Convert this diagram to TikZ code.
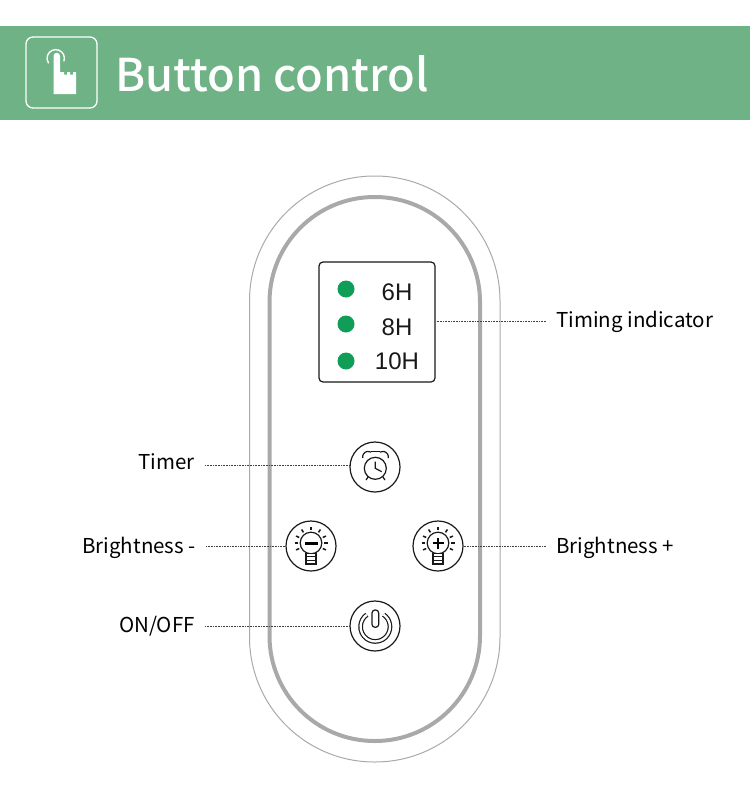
\documentclass[tikz,border=0pt]{standalone}
\usepackage{fontspec}
\setmainfont{Noto Sans CJK SC}
\newfontfamily\titlefont{Noto Sans CJK SC Medium}
\newfontfamily\panelfont{Liberation Sans}
\definecolor{banner}{HTML}{6EB285}
\definecolor{ledgreen}{HTML}{0F9D58}
\definecolor{shellgrey}{HTML}{A9A9A9}
\tikzset{
  caption/.style={font=\fontsize{20.5}{22}\selectfont,text=black,text height=15pt,text depth=3pt,inner xsep=10pt,inner ysep=0pt},
  button/.style={circle,draw=black!90,line width=1.2pt,fill=white,minimum size=50pt,inner sep=0pt},
  led/.style={circle,fill=ledgreen,minimum size=17pt,inner sep=0pt},
  hours/.style={font=\panelfont\fontsize{24}{26}\selectfont,text=black!90,inner sep=0pt},
  leader/.style={densely dotted,line width=0.6pt,black!75},
  icon/.style={line width=1.2pt,black!90}
}
\begin{document}
\begin{tikzpicture}[x=1pt,y=-1pt]
  \useasboundingbox (0,0) rectangle (750,808);
  % header
  \fill[banner] (0,26) rectangle (750,120);
  \draw[white,line width=1.3pt,rounded corners=7pt] (26,37) rectangle (97,108);
  \draw[white,line width=1.4pt] (63.9,61.3) arc (-20:215:8.7 and -8.7);
  \fill[white] (53.5,56) -- (53.5,94) -- (76,94) -- (76,72) -- (73,72) -- (73,74.5) -- (70,74.5) -- (70,72)
    -- (67,72) -- (67,74.5) -- (64,74.5) -- (64,72) -- (60,72) -- (60,56) arc (0:-180:3.25 and 3.25) -- cycle;
  \node[anchor=base west,white,inner sep=0pt,font=\titlefont\fontsize{45.2}{54}\selectfont] (title) at (115,91) {Button control};
  % shell
  \draw[shellgrey,line width=1pt,rounded corners=125pt] (249.5,176) rectangle (500,762);
  \draw[shellgrey,line width=4pt,rounded corners=105pt] (269.5,197) rectangle (480,741);
  % timing panel
  \node[draw=black!90,line width=1.2pt,rounded corners=4pt,minimum width=116pt,minimum height=120pt,inner sep=0pt] (panel) at (377,322) {};
  \node[led] (led6) at (346,289) {};
  \node[led] (led8) at (346,324) {};
  \node[led] (led10) at (346,361) {};
  \node[hours] (h6) at (397,292) {6H};
  \node[hours] (h8) at (397,327) {8H};
  \node[hours] (h10) at (397,361) {10H};
  % buttons
  \node[button] (timerbtn) at (375,467) {};
  \node[button] (minusbtn) at (311,546) {};
  \node[button] (plusbtn) at (438,546) {};
  \node[button] (powerbtn) at (375,626) {};
  % clock
  \draw[icon] (375.3,468.3) circle (11);
  \draw[icon] (375.3,461.7) -- (375.3,468.3) -- (381.7,471.7);
  \draw[icon] (362.7,458) arc (190:60:5.7 and -5.7);
  \draw[icon] (388.3,458) arc (-10:120:5.7 and -5.7);
  \draw[icon] (371,451.5) -- (380,451.5);
  \draw[icon] (368.3,476.7) -- (366,480) (382.7,476.7) -- (385,480);
  % bulbs
  \foreach \cx/\cy in {311/543,438/543}{
    \draw[icon] (\cx,\cy) circle (10.8);
    \foreach \ang in {-25,0,25,55,90,125,155,180,205}
      \draw[icon,line width=1.5pt] ({\cx+13*cos(\ang)},{\cy-13*sin(\ang)}) -- ({\cx+16.5*cos(\ang)},{\cy-16.5*sin(\ang)});
    \draw[icon,fill=white] (\cx-5,\cy+10.3) rectangle (\cx+5,\cy+21);
    \draw[icon] (\cx-5,\cy+13.8) -- (\cx+5,\cy+13.8) (\cx-5,\cy+17.4) -- (\cx+5,\cy+17.4);
  }
  \draw[black,line width=3pt] (304.5,543) -- (317.5,543);
  \draw[black,line width=2.8pt] (432.5,543) -- (443.5,543) (438,537.5) -- (438,548.5);
  % power
  \draw[icon,double=white,double distance=2.3pt] (383.7,614.7) arc (55:-235:14.7 and -14.7);
  \draw[icon,rounded corners=3pt,fill=white] (372,610) rectangle (378.7,627.3);
  % labels
  \node[caption,anchor=east,text depth=7pt] (timerlabel) at (205,465) {Timer};
  \node[caption,anchor=east,text depth=1pt] (minuslabel) at (206,546) {Brightness -};
  \node[caption,anchor=east] (onofflabel) at (205,626) {ON/OFF};
  \node[caption,anchor=west,text depth=1pt] (pluslabel) at (546,546) {Brightness +};
  \node[caption,anchor=west] (timinglabel) at (546,321) {Timing indicator};
  \draw[leader] (timerlabel.east) -- (timerlabel.east -| timerbtn.west);
  \draw[leader] (minuslabel.east) -- (minusbtn.west);
  \draw[leader] (onofflabel.east) -- (powerbtn.west);
  \draw[leader] (plusbtn.east) -- (pluslabel.west);
  \draw[leader] (timinglabel.west) -- (timinglabel.west -| panel.east);
\end{tikzpicture}
\end{document}
